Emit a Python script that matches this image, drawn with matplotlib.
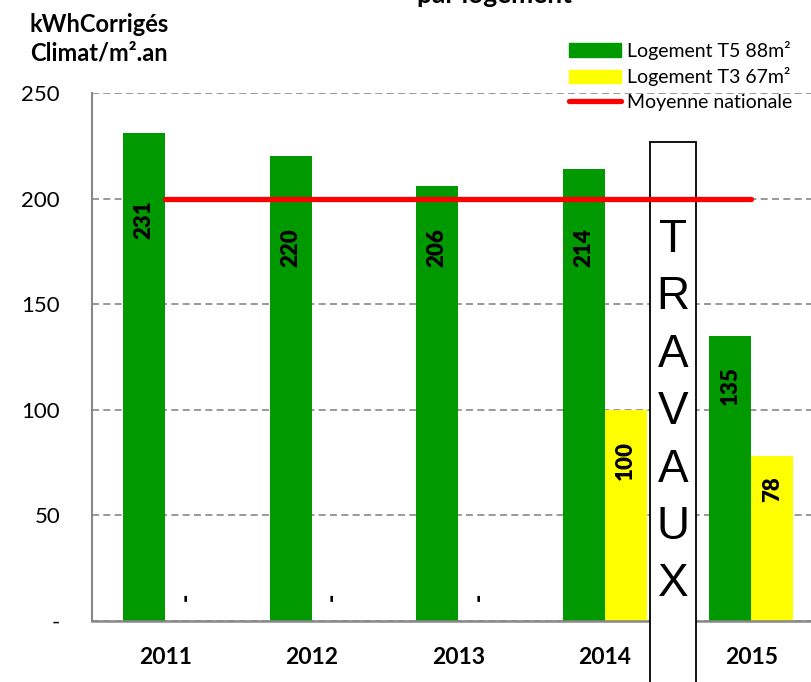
import numpy as np
import matplotlib.pyplot as plt
from matplotlib.patches import Patch, Rectangle
from matplotlib.lines import Line2D

plt.rcParams['font.family'] = ['Lato', 'DejaVu Sans']

# chart data
years = ['2011', '2012', '2013', '2014', '2015']
t5_88m2 = [231, 220, 206, 214, 135]
t3_67m2 = [0, 0, 0, 100, 78]
moyenne = [200, 200, 200, 200, 200]
y_ticks = [0, 50, 100, 150, 200, 250]
y_tick_labels = ['-', '50', '100', '150', '200', '250']

green = '#009900'
yellow = '#FFFF00'
red = '#FF0000'
grey = '#888888'

fig = plt.figure(figsize=(8.12, 6.82), dpi=100)
ax = fig.add_axes([92 / 812, 1 - 621 / 682, 1 - 92 / 812, (621 - 93) / 682])

x = np.arange(len(years))
w = 0.287

# bars
ax.bar(x - w, t5_88m2, width=w, align='edge', color=green, zorder=2)
ax.bar(x, t3_67m2, width=w, align='edge', color=yellow, zorder=2)

# national average line
ax.plot(x, moyenne, color=red, lw=3.8, solid_capstyle='round', zorder=5)

# value labels (rotated, inside bars)
t5_label_y = [190, 176.8, 176.8, 176.8, 111.7]
t3_label_y = [11.4, 11.4, 11.4, 75.8, 62.3]
for i in range(len(years)):
    ax.text(x[i] - w / 2, t5_label_y[i], str(t5_88m2[i]), rotation=90,
            ha='center', va='center', fontsize=16, fontweight='heavy', zorder=6)
    lab = str(t3_67m2[i]) if t3_67m2[i] else '-'
    ax.text(x[i] + w / 2, t3_label_y[i], lab, rotation=90,
            ha='center', va='center', fontsize=16, fontweight='heavy', zorder=6)

# TRAVAUX box between 2014 and 2015
ax.add_patch(Rectangle((3.309, -60), 0.314, 286.8, facecolor='white',
                       edgecolor='black', lw=1.3, clip_on=False, zorder=4))
for k, letter in enumerate('TRAVAUX'):
    ax.text(3.466, 180.5 - k * 27.2, letter, ha='center', va='center',
            fontsize=33, family=['Liberation Sans', 'DejaVu Sans'], zorder=6)

# axes styling
ax.set_xlim(-0.5, 4.415)
ax.set_ylim(0, 250)
ax.set_yticks(y_ticks)
ax.set_yticklabels(y_tick_labels, fontsize=16)
ax.set_xticks(x)
ax.set_xticklabels(years, fontsize=16.5, fontweight='bold')
ax.tick_params(axis='y', length=0, pad=23)
ax.tick_params(axis='x', length=0, pad=19)
ax.yaxis.grid(True, color=grey, lw=1.2, linestyle=(0, (4.2, 2.6)), zorder=0)
ax.set_axisbelow(True)
for s in ['top', 'right']:
    ax.spines[s].set_visible(False)
ax.spines['left'].set_color(grey)
ax.spines['left'].set_linewidth(1.5)
ax.spines['bottom'].set_color(grey)
ax.spines['bottom'].set_linewidth(1.8)

# axis title and (cropped) chart title
fig.text(99 / 812, 1 - 25 / 682, 'kWhCorrigés', ha='center', va='center',
         fontsize=17, fontweight='bold')
fig.text(99 / 812, 1 - 53 / 682, 'Climat/m².an', ha='center', va='center',
         fontsize=17, fontweight='bold')
fig.text(495 / 812, 1 - 3 / 682, 'par logement', ha='center', va='baseline',
         fontsize=19, fontweight='bold')

# legend
handles = [Patch(color=green), Patch(color=yellow),
           Line2D([0], [0], color=red, lw=3.8, solid_capstyle='round')]
labels = ['Logement T5 88m²', 'Logement T3 67m²', 'Moyenne nationale']
fig.legend(handles, labels, loc='upper left', bbox_to_anchor=(569 / 812, 1 - 41 / 682),
           frameon=False, fontsize=14, borderpad=0, borderaxespad=0,
           handlelength=2.68, handletextpad=0.3, labelspacing=0.38)

fig.savefig('out.png', dpi=100)
